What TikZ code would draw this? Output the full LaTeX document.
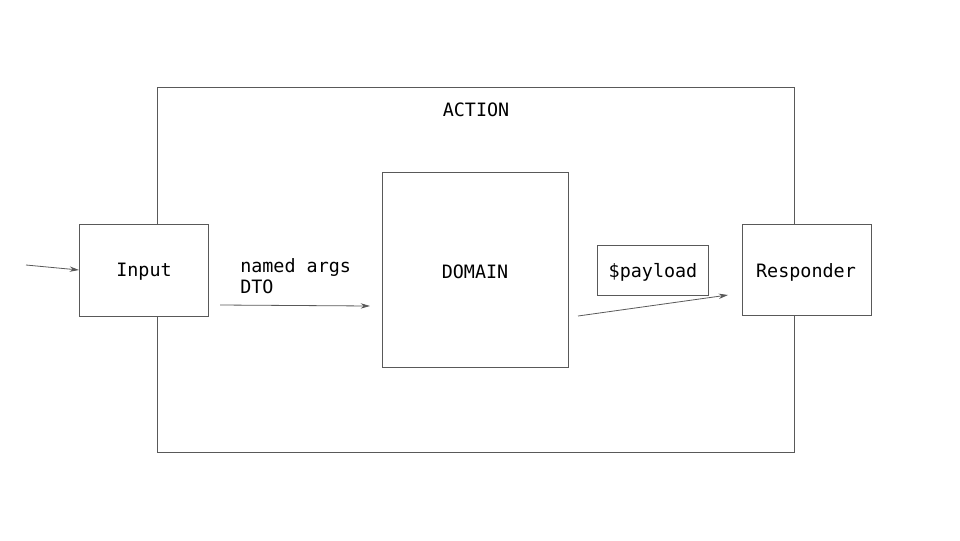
\documentclass[tikz,border=0pt]{standalone}
\usepackage{fontspec}
\setmonofont{DejaVu Sans Mono}
\usetikzlibrary{arrows.meta}
\definecolor{linegray}{HTML}{595959}
\begin{document}
\begin{tikzpicture}[x=0.75pt,y=-0.75pt,
  box/.style={draw=linegray,line width=0.6pt,fill=white},
  lbl/.style={font=\ttfamily\fontsize{13.8pt}{16pt}\selectfont,text=black},
  conn/.style={draw=linegray,line width=0.6pt,-{Stealth[length=7pt,width=4pt]}}]
\useasboundingbox (0,0) rectangle (960,540);
\draw[box] (157,87) rectangle (794,452);
\node[lbl] (action) at (476,110) {ACTION};
\draw[box] (79,224) rectangle (208,316);
\node[lbl] (input) at (144,272) {Input};
\draw[box] (382,172) rectangle (568,367);
\node[lbl] (domain) at (475,272) {DOMAIN};
\draw[box] (597,245) rectangle (708,295);
\node[lbl] (payload) at (653,272) {\$payload};
\draw[box] (742,224) rectangle (871,315);
\node[lbl] (responder) at (806,272) {Responder};
\node[lbl,anchor=north west,align=left,inner sep=0pt] (dto) at (240,258) {named args\\DTO};
\coordinate (a0) at (26,265);
\coordinate (a1) at (79,270);
\coordinate (b0) at (220,305);
\coordinate (b1) at (370,306);
\coordinate (c0) at (578,316);
\coordinate (c1) at (728,295);
\draw[conn] (a0) -- (a1);
\draw[conn] (b0) -- (b1);
\draw[conn] (c0) -- (c1);
\end{tikzpicture}
\end{document}
